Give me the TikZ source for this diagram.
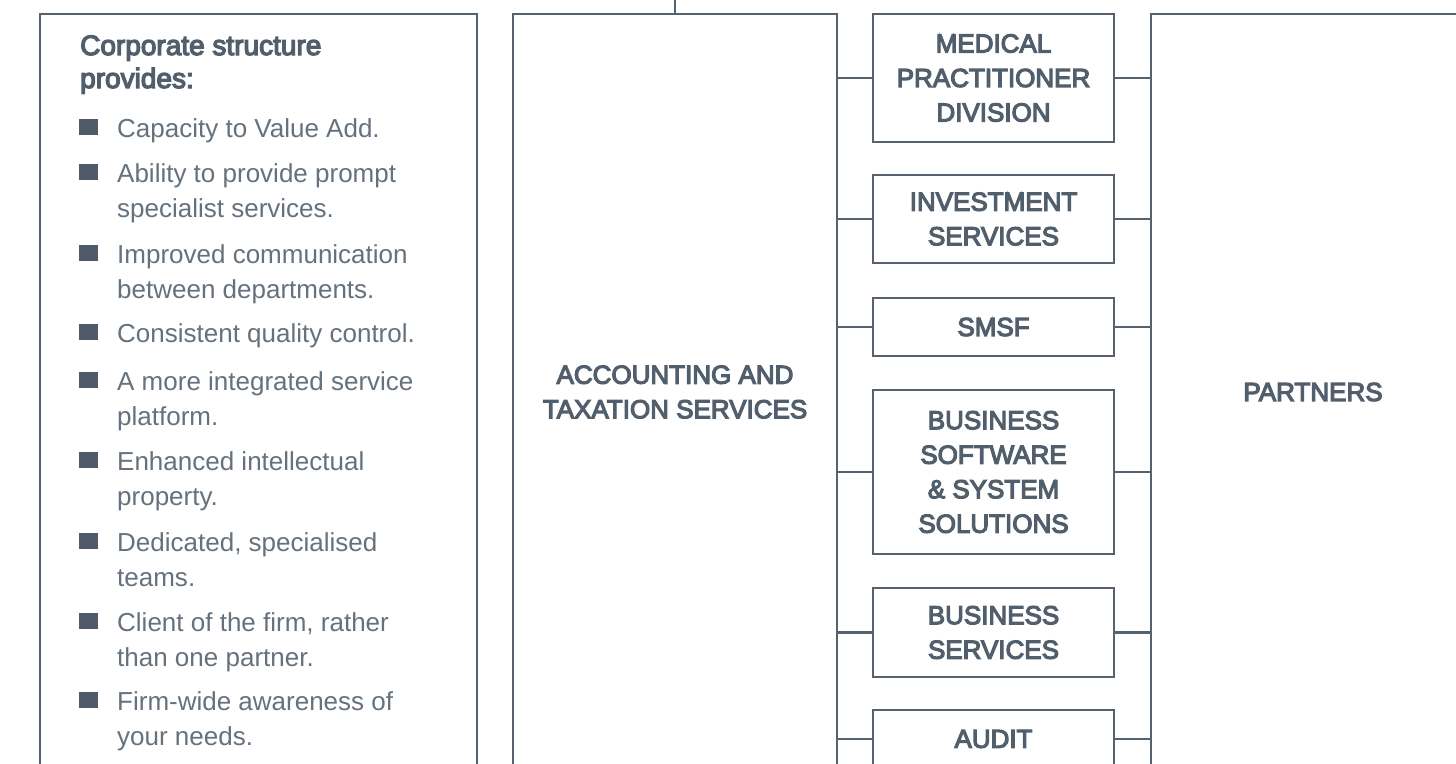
\documentclass[tikz,border=0pt]{standalone}
\usepackage{fontspec}
\setmainfont{Liberation Sans}
\newfontfamily\medfont[FakeBold=4.5]{Liberation Sans}
\definecolor{ln}{HTML}{56636F}
\definecolor{tx}{HTML}{515E6B}
\definecolor{bodytx}{HTML}{65717D}
\definecolor{sq}{HTML}{4F5B68}
\tikzset{
  frame/.style={draw=ln, line width=2.2pt, inner sep=0pt},
  bigbox/.style={frame, minimum width=324pt, minimum height=756pt, align=center, text=tx, font=\medfont\fontsize{26}{34.5}\selectfont},
  unit/.style={frame, minimum width=241pt, align=center, text=tx, font=\medfont\fontsize{26}{34.5}\selectfont},
  item/.style={anchor=base west, inner sep=0pt, align=left, text=bodytx, font=\fontsize{26}{35}\selectfont},
  head/.style={anchor=base west, inner sep=0pt, align=left, text=tx, font=\medfont\fontsize{28}{33}\selectfont},
  bullet/.style={fill=sq, inner sep=0pt, minimum width=19pt, minimum height=16pt, anchor=south west},
  link/.style={draw=ln, line width=2.2pt},
}
\begin{document}
\begin{tikzpicture}[x=1pt,y=-1pt]
\useasboundingbox (0,0) rectangle (1456,763);
\clip (0,0) rectangle (1456,763);
% left box (base anchor of a multi-line node = baseline of its last line)
\node[frame, minimum width=437pt, minimum height=756pt] (lbox) at (258.5,392) {};
\node[head] (hd) at (80,88) {Corporate structure\\provides:};
\node[bullet] (b1) at (79,135.5) {};
\node[item] (t1) at (117,137) {Capacity to Value Add.};
\node[bullet] (b2) at (79,180.5) {};
\node[item] (t2) at (117,217) {Ability to provide prompt\\specialist services.};
\node[bullet] (b3) at (79,261.5) {};
\node[item] (t3) at (117,298) {Improved communication\\between departments.};
\node[bullet] (b4) at (79,340.5) {};
\node[item] (t4) at (117,342) {Consistent quality control.};
\node[bullet] (b5) at (79,388.5) {};
\node[item] (t5) at (117,425) {A more integrated service\\platform.};
\node[bullet] (b6) at (79,468.5) {};
\node[item] (t6) at (117,505) {Enhanced intellectual\\property.};
\node[bullet] (b7) at (79,549.5) {};
\node[item] (t7) at (117,586) {Dedicated, specialised\\teams.};
\node[bullet] (b8) at (79,629.5) {};
\node[item] (t8) at (117,666) {Client of the firm, rather\\than one partner.};
\node[bullet] (b9) at (79,708.5) {};
\node[item] (t9) at (117,745) {Firm-wide awareness of\\your needs.};
% accounting
\node[bigbox] (acct) at (675,392) {ACCOUNTING AND\\TAXATION SERVICES};
\coordinate (topend) at (675,-10);
\draw[link] (acct.north) -- (acct.north |- topend);
% partners
\node[bigbox] (part) at (1313,392) {PARTNERS};
% units
\node[unit, minimum height=128pt] (med) at (993.5,78) {MEDICAL\\PRACTITIONER\\DIVISION};
\node[unit, minimum height=88pt] (inv) at (993.5,219) {INVESTMENT\\SERVICES};
\node[unit, minimum height=58pt] (smsf) at (993.5,327) {SMSF};
\node[unit, minimum height=164pt] (bss) at (993.5,472) {BUSINESS\\SOFTWARE\\\&{} SYSTEM\\SOLUTIONS};
\node[unit, minimum height=89pt] (bs) at (993.5,632.5) {BUSINESS\\SERVICES};
\node[unit, minimum height=58pt] (aud) at (993.5,739) {AUDIT};
\foreach \u in {med,inv,smsf,bss,bs,aud}{
  \draw[link] (acct.east |- \u.west) -- (\u.west);
  \draw[link] (\u.east) -- (\u.east -| part.west);
}
\end{tikzpicture}
\end{document}
